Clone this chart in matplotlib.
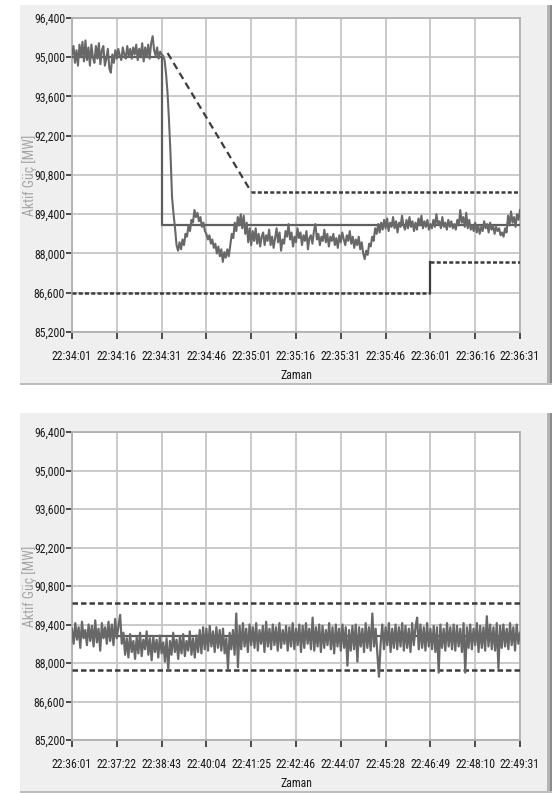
import matplotlib
matplotlib.use("Agg")
import matplotlib.pyplot as plt
import numpy as np
from matplotlib.patches import Rectangle
from matplotlib.ticker import FixedLocator, FuncFormatter
from matplotlib import font_manager

_names = {f.name for f in font_manager.fontManager.ttflist}
_narrow = [n for n in ["Liberation Sans Narrow", "DejaVu Sans Condensed", "Roboto Condensed",
                       "Open Sans Condensed"] if n in _names]
plt.rcParams['font.family'] = _narrow[:1] + ['DejaVu Sans']
FS = 8.5 if _narrow else 7.5
FS_Y = 10 if _narrow else 8.5

# ---------------- DATA ----------------
y_ticks = [85200, 86600, 88000, 89400, 90800, 92200, 93600, 95000, 96400]

top_xticklabels = ["22:34:01", "22:34:16", "22:34:31", "22:34:46", "22:35:01", "22:35:16",
                   "22:35:31", "22:35:46", "22:36:01", "22:36:16", "22:36:31"]
bot_xticklabels = ["22:36:01", "22:37:22", "22:38:43", "22:40:04", "22:41:25", "22:42:46",
                   "22:44:07", "22:45:28", "22:46:49", "22:48:10", "22:49:31"]

top_sample_s = 0.5
top_power = [
    95100, 95400, 94800, 95250, 94700, 95450, 95000, 95550, 94850, 95600,
    94900, 95350, 94700, 95450, 95000, 94800, 95400, 94950, 95500, 94750,
    95250, 95400, 94700, 94950, 95300, 94600, 94450, 95100, 94800, 95250,
    94950, 95300, 95050, 94900, 95350, 95100, 94950, 95400, 95050, 95300,
    94950, 95350, 95100, 95450, 94900, 95300, 95000, 95500, 94850, 95350,
    95000, 95450, 94950, 95500, 95750, 95250, 95050, 95350, 94950, 95200,
    95100, 95050, 94900, 94400, 93700, 92700, 91500, 90000, 89400, 88900,
    88300, 88100, 88400, 88150, 88500, 88300, 88700, 88600, 89000, 88800,
    89200, 89100, 89550, 89300, 89450, 89150, 89300, 88950, 89100, 88800,
    88700, 88500, 88650, 88350, 88500, 88200, 88350, 88000, 88250, 87900,
    88150, 87700, 88050, 87850, 88150, 87900, 88300, 88700, 88550, 89100,
    88800, 89300, 89000, 89400, 88900, 89350, 88700, 89100, 88400, 88900,
    88300, 88800, 88450, 88900, 88350, 88700, 88250, 88600, 88750, 88300,
    88650, 88450, 88850, 88300, 88600, 88200, 88550, 88900, 88400, 88750,
    88100, 88500, 88350, 88800, 88600, 89050, 88500, 88750, 88250, 88600,
    88400, 88900, 88550, 88750, 88300, 88650, 88450, 88800, 88150, 88550,
    88650, 88350, 88800, 89050, 88500, 88700, 88300, 88600, 88450, 88850,
    88400, 88700, 88250, 88600, 88450, 88700, 88300, 88550, 88200, 88650,
    88400, 88750, 88500, 88300, 88650, 88450, 88800, 88350, 88600, 88200,
    88500, 88300, 88600, 88150, 88400, 88000, 87800, 88100, 87950, 88350,
    88250, 88600, 88450, 88900, 88700, 89050, 88750, 89100, 88850, 89200,
    88900, 89250, 88800, 89100, 88950, 89300, 88900, 89150, 88750, 89100,
    88950, 89350, 89000, 88850, 89200, 88900, 89300, 88950, 89150, 88800,
    89100, 88850, 89250, 89000, 89350, 88900, 89150, 88950, 89200, 88850,
    89050, 88900, 89200, 88950, 89400, 89050, 89150, 88900, 89300, 88950,
    89100, 88850, 89200, 88950, 89150, 88900, 89050, 88850, 89200, 89000,
    89550, 89100, 89300, 88950, 89450, 88900, 89200, 88850, 89000, 88800,
    89100, 88750, 89000, 88700, 88950, 88800, 89150, 88900, 89050, 88750,
    89100, 88850, 89000, 88700, 88950, 88800, 88900, 88650, 88750, 88600,
    88900, 88750, 89350, 89000, 89500, 89100, 89300, 88950, 89400, 89200,
    89550,
]
top_setpoint_t = [0, 30, 30, 150]
top_setpoint_mw = [95000, 95000, 89000, 89000]
top_upper_ramp_t = [32, 60]
top_upper_ramp_mw = [95150, 90200]
top_upper_flat_t = [60, 150]
top_upper_flat_mw = [90200, 90200]
top_lower_t = [0, 120, 120, 150]
top_lower_mw = [86580, 86580, 87700, 87700]

bot_sample_s = 3
bot_power = [
    89250, 88700, 89450, 88850, 89300, 88550, 89500, 88900, 89200, 88650,
    89400, 88800, 89350, 88600, 89550, 88750, 89250, 88450, 89450, 88900,
    89300, 88700, 89500, 88800, 89400, 88650, 89600, 88900, 89350, 89750,
    88700, 89100, 88300, 88900, 88200, 89050, 88400, 88800, 88150, 88950,
    88350, 89100, 88250, 88850, 88500, 89150, 88300, 88900, 88100, 88950,
    88400, 88850, 88200, 89000, 88350, 88750, 88050, 88900, 87750, 88800,
    88300, 89100, 88400, 88850, 88150, 88950, 88350, 89050, 88250, 88800,
    88450, 89150, 88300, 88900, 88200, 89000, 88400, 89200, 88350, 89300,
    88500, 89250, 88450, 89350, 88600, 89150, 88400, 89300, 88550, 89200,
    88450, 89250, 88350, 88900, 87800, 89100, 88500, 89200, 88300, 89800,
    87850, 89350, 88500, 89450, 88600, 89250, 88400, 89400, 88650, 89300,
    88550, 89450, 88450, 89200, 88700, 89350, 88400, 89500, 88600, 89250,
    88500, 89400, 88650, 89300, 88450, 89450, 88550, 89200, 88700, 89350,
    88450, 89300, 88600, 89450, 88500, 89250, 88650, 89400, 88400, 89350,
    88550, 89450, 88700, 89250, 88500, 89650, 88450, 89300, 88600, 89400,
    88400, 89350, 88550, 89200, 88650, 89450, 88500, 89300, 88350, 89400,
    88600, 89250, 88450, 89400, 88550, 89300, 87900, 89200, 88450, 89350,
    88500, 89400, 88050, 89300, 88600, 89250, 88400, 89450, 88550, 89300,
    88450, 89800, 88600, 89250, 88350, 87500, 88700, 89400, 88500, 89300,
    88650, 89450, 88400, 89250, 88550, 89400, 88500, 89300, 88600, 89450,
    88450, 89350, 88550, 89250, 88400, 89450, 88650, 89300, 89650, 88500,
    89400, 88550, 89300, 88450, 89450, 88600, 89250, 88500, 89350, 88400,
    89300, 87650, 89400, 88550, 89250, 88450, 89450, 88600, 89300, 88500,
    89400, 88450, 89350, 88600, 89250, 88400, 89450, 87650, 89300, 88550,
    89400, 88500, 89250, 88650, 89450, 88400, 89350, 88550, 89300, 88450,
    89700, 88600, 89400, 88500, 89300, 88450, 89450, 87800, 89350, 88550,
    89400, 88600, 89250, 88500, 89450, 88650, 89300, 88450, 89400, 88700,
    89100,
]
bot_setpoint_mw = 89000
bot_upper_mw = 90200
bot_lower_mw = 87750

y_label = "Aktif Güç [MW]"
x_label = "Zaman"


def to_offsets(labels):
    secs = []
    for s in labels:
        h, m, sec = [int(v) for v in s.split(":")]
        secs.append(h * 3600 + m * 60 + sec)
    return [v - secs[0] for v in secs]


# ---------------- FIGURE ----------------
W, H = 554, 796
fig = plt.figure(figsize=(W / 100, H / 100), dpi=100)
fig.patch.set_facecolor("white")


def px(x0, y0, x1, y1):
    return [x0 / W, 1 - y1 / H, (x1 - x0) / W, (y1 - y0) / H]


# panels
for (y0, y1) in [(5, 385), (413, 793)]:
    fig.patches.append(Rectangle((20 / W, 1 - y1 / H), 532 / W, (y1 - y0) / H,
                                 transform=fig.transFigure, facecolor="#efefef",
                                 edgecolor="none", zorder=-10))
    fig.patches.append(Rectangle((547 / W, 1 - y1 / H), 5 / W, (y1 - y0) / H,
                                 transform=fig.transFigure, facecolor="#b4b4b4",
                                 edgecolor="none", zorder=-9))
    fig.patches.append(Rectangle((550 / W, 1 - y1 / H), 2 / W, (y1 - y0) / H,
                                 transform=fig.transFigure, facecolor="#8a8a8a",
                                 edgecolor="none", zorder=-9))
    fig.patches.append(Rectangle((20 / W, 1 - y1 / H), 532 / W, 2 / H,
                                 transform=fig.transFigure, facecolor="#bdbdbd",
                                 edgecolor="none", zorder=-9))

ax1 = fig.add_axes(px(72, 18, 520, 332))
ax2 = fig.add_axes(px(72, 432, 520, 740))
ax1.set_zorder(5)
ax2.set_zorder(5)

line_col = "#686868"
sp_col = "#5e5e5e"
lim_col = "#3c3c3c"


def style(ax, xlabels, xlabel_off):
    ticks = to_offsets(xlabels)
    ax.set_facecolor("white")
    ax.set_xlim(ticks[0], ticks[-1])
    ax.set_ylim(y_ticks[0], y_ticks[-1])
    ax.xaxis.set_major_locator(FixedLocator(ticks))
    ax.set_xticklabels(xlabels)
    ax.yaxis.set_major_locator(FixedLocator(y_ticks))
    ax.yaxis.set_major_formatter(FuncFormatter(lambda v, p: f"{v:,.0f}"))
    ax.grid(True, color="#c6c6c6", linewidth=1.3, zorder=0)
    ax.set_axisbelow(True)
    for s in ax.spines.values():
        s.set_color("#b0b0b0")
        s.set_linewidth(1.3)
    ax.tick_params(axis="y", direction="out", length=4, width=1.2, color="#303030",
                   pad=1, labelsize=FS, labelcolor="#1a1a1a")
    ax.tick_params(axis="x", direction="out", length=5, width=1.2, color="#303030",
                   pad=8, labelsize=FS, labelcolor="#1a1a1a")
    ax.set_ylabel(y_label, color="#a6a6a6", fontsize=FS_Y)
    ax.yaxis.set_label_coords(-0.078, 0.5)
    ax.set_xlabel(x_label, color="#1a1a1a", fontsize=FS)
    ax.xaxis.set_label_coords(0.5, xlabel_off)
    ax.xaxis.label.set_va("top")


style(ax1, top_xticklabels, -37 / 314)
style(ax2, bot_xticklabels, -37 / 308)

# top chart
t_top = np.arange(len(top_power)) * top_sample_s
ax1.plot(top_setpoint_t, top_setpoint_mw, color=sp_col, lw=1.6, zorder=3)
ax1.plot(top_lower_t[:2], top_lower_mw[:2], color=lim_col, lw=1.8, ls=(0, (1.6, 0.9)), zorder=3)
ax1.plot(top_lower_t[1:3], top_lower_mw[1:3], color=lim_col, lw=1.6, zorder=3)
ax1.plot(top_lower_t[2:], top_lower_mw[2:], color=lim_col, lw=1.8, ls=(0, (1.6, 0.9)), zorder=3)
ax1.plot(top_upper_ramp_t, top_upper_ramp_mw, color=lim_col, lw=1.6, ls=(0, (3.2, 2.0)), zorder=3)
ax1.plot(top_upper_flat_t, top_upper_flat_mw, color=lim_col, lw=1.8, ls=(0, (1.6, 0.9)), zorder=3)
ax1.plot(t_top, top_power, color=line_col, lw=1.5, zorder=4)

# bottom chart
t_bot = np.arange(len(bot_power)) * bot_sample_s
xb = ax2.get_xlim()
ax2.plot(xb, [bot_setpoint_mw] * 2, color=sp_col, lw=1.6, zorder=3)
ax2.plot(xb, [bot_upper_mw] * 2, color=lim_col, lw=1.8, ls=(0, (2.2, 1.2)), zorder=3)
ax2.plot(xb, [bot_lower_mw] * 2, color=lim_col, lw=1.8, ls=(0, (2.2, 1.2)), zorder=3)
ax2.plot(t_bot, bot_power, color=line_col, lw=1.6, zorder=4)

fig.savefig("out.png", dpi=100)
